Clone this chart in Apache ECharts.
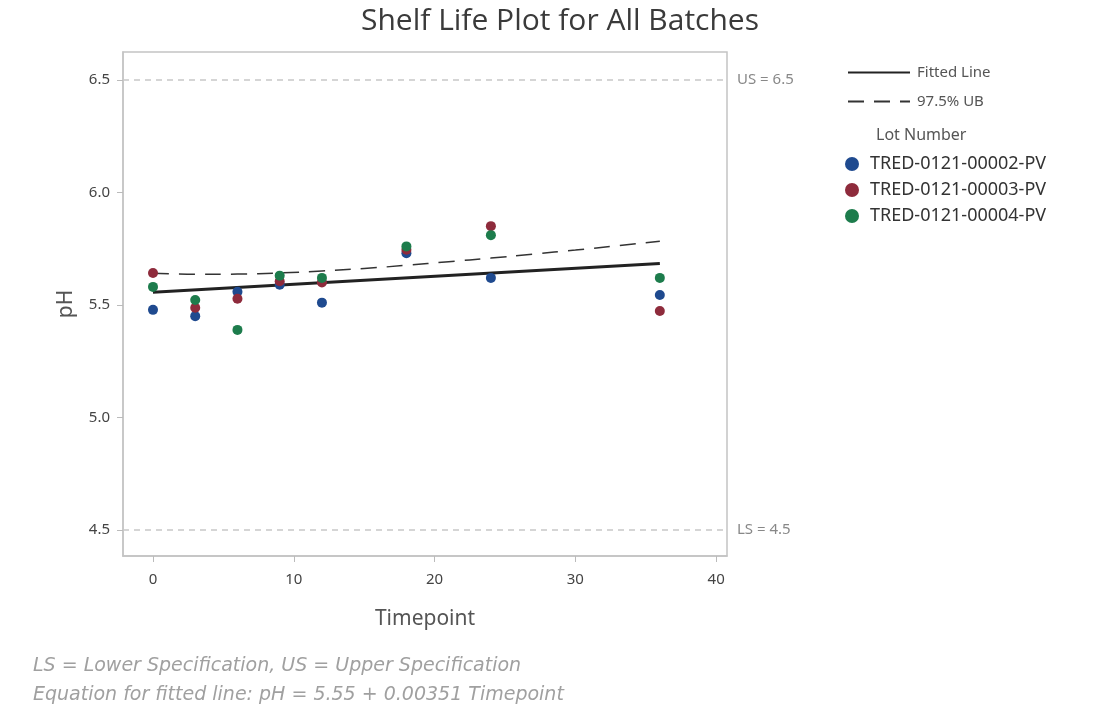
<!DOCTYPE html>
<html>
<head>
<meta charset="utf-8">
<script src="https://cdn.jsdelivr.net/npm/echarts@6/dist/echarts.min.js"></script>
<style>
  html, body { margin: 0; padding: 0; background: #fff; }
  #main { width: 1101px; height: 715px; }
</style>
</head>
<body>
<div id="main"></div>
<script>
// timepoints where samples were taken
var timepoints = [0, 3, 6, 9, 12, 18, 24, 36];
var lotNames = ['TRED-0121-00002-PV', 'TRED-0121-00003-PV', 'TRED-0121-00004-PV'];
// pH per lot, one value per timepoint
var lot2 = [5.478, 5.450, 5.558, 5.590, 5.510, 5.730, 5.620, 5.544];
var lot3 = [5.642, 5.487, 5.527, 5.605, 5.600, 5.745, 5.850, 5.473];
var lot4 = [5.580, 5.522, 5.389, 5.630, 5.620, 5.760, 5.810, 5.620];

// fitted line end points and 97.5% upper bound
var fitT = [0, 36];
var fitPH = [5.556, 5.684];
var ubT = [0, 3, 6, 9, 12, 15, 18, 21, 24, 27, 30, 33, 36];
var ubPH = [5.641, 5.636, 5.637, 5.642, 5.651, 5.662, 5.676, 5.692, 5.708, 5.726, 5.744, 5.763, 5.783];

var specUpper = 6.5;
var specLower = 4.5;
var xTicks = [0, 10, 20, 30, 40];
var yTicks = [4.5, 5.0, 5.5, 6.0, 6.5];

var lotColors = ['#1f4a8f', '#8e2b3c', '#1d7c4c'];

function pairs(xs, ys) {
    var out = [];
    xs.forEach(function (x, i) { out.push([x, ys[i]]); });
    return out;
}

var chart = echarts.init(document.getElementById('main'));

var lotSeries = [lot2, lot3, lot4].map(function (vals, i) {
    return {
        name: lotNames[i],
        type: 'scatter',
        symbol: 'circle',
        symbolSize: 10,
        itemStyle: {color: lotColors[i], opacity: 1},
        data: pairs(timepoints, vals),
        z: 3
    };
});

var option = {
    animation: false,
    textStyle: {fontFamily: 'Noto Sans'},
    title: {
        text: 'Shelf Life Plot for All Batches',
        left: 555,
        textAlign: 'center',
        top: 1,
        textStyle: {fontFamily: 'Open Sans', fontSize: 30, fontWeight: 'normal', color: '#3a3a3a'}
    },
    grid: {
        left: 123, right: 374, top: 52, bottom: 159,
        show: true, borderColor: '#c4c4c4', borderWidth: 1.5
    },
    legend: [{
        data: ['Fitted Line', '97.5% UB'],
        orient: 'vertical',
        left: 842, top: 60,
        itemWidth: 62, itemHeight: 14, itemGap: 14,
        itemStyle: {opacity: 0},
        textStyle: {color: '#555', fontSize: 15, padding: [0, 0, 0, 2]}
    }, {
        data: lotNames,
        orient: 'vertical',
        left: 840, top: 150,
        icon: 'circle',
        itemWidth: 26, itemHeight: 14, itemGap: 8,
        itemStyle: {opacity: 1},
        textStyle: {color: '#333', fontSize: 18}
    }],
    graphic: [{
        type: 'text', left: 876, top: 127,
        style: {text: 'Lot Number', fill: '#555', fontSize: 16, fontFamily: 'Noto Sans'}
    }, {
        type: 'text', left: 33, top: 652,
        style: {
            text: 'LS = Lower Specification, US = Upper Specification\nEquation for fitted line: pH = 5.55 + 0.00351 Timepoint',
            fill: '#a0a0a0', fontSize: 19, fontStyle: 'italic', lineHeight: 29, fontFamily: 'DejaVu Sans'
        }
    }],
    xAxis: {
        type: 'value',
        min: -2.13, max: 40.77,
        name: 'Timepoint',
        nameLocation: 'middle',
        nameGap: 53,
        nameTextStyle: {fontSize: 21, color: '#555'},
        splitLine: {show: false},
        axisLine: {show: true, onZero: false, lineStyle: {color: '#c4c4c4', width: 1.5}},
        axisTick: {show: true, customValues: xTicks, length: 6, lineStyle: {color: '#bbb'}},
        axisLabel: {customValues: xTicks, margin: 16, fontSize: 15, color: '#444'}
    },
    yAxis: {
        type: 'value',
        min: 4.384, max: 6.624,
        name: 'pH',
        nameLocation: 'middle',
        nameGap: 46,
        nameTextStyle: {fontSize: 21, color: '#555'},
        splitLine: {show: false},
        axisLine: {show: true, onZero: false, lineStyle: {color: '#c4c4c4', width: 1.5}},
        axisTick: {show: true, customValues: yTicks, length: 6, lineStyle: {color: '#bbb'}},
        axisLabel: {
            customValues: yTicks, margin: 13, fontSize: 15, color: '#444',
            formatter: function (v) { return v.toFixed(1); }
        }
    },
    series: [{
        name: 'Fitted Line',
        type: 'line',
        symbol: 'none',
        lineStyle: {color: '#222', width: 3},
        itemStyle: {color: '#222'},
        data: pairs(fitT, fitPH),
        z: 2,
        markLine: {
            silent: true,
            symbol: 'none',
            lineStyle: {color: '#c8c8c8', type: [6, 5], width: 1.5},
            label: {position: 'end', distance: 10, color: '#888', fontSize: 15,
                formatter: function (p) { return p.name; }},
            data: [
                {name: 'US = 6.5', yAxis: specUpper},
                {name: 'LS = 4.5', yAxis: specLower}
            ]
        }
    }, {
        name: '97.5% UB',
        type: 'line',
        symbol: 'none',
        smooth: true,
        lineStyle: {color: '#333', width: 1.5, type: [16, 10]},
        itemStyle: {color: '#333'},
        data: pairs(ubT, ubPH),
        z: 2
    }].concat(lotSeries)
};

chart.setOption(option);
</script>
</body>
</html>
